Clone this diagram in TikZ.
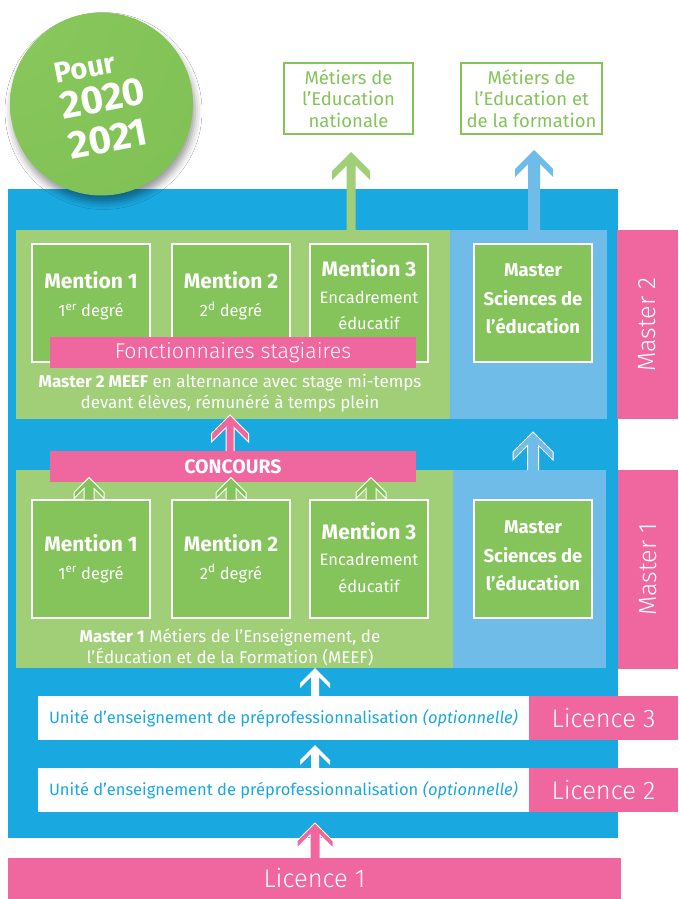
\documentclass[tikz,border=0pt]{standalone}
\usepackage{fontspec}
\setmainfont{Fira Sans}
\newfontfamily\lightfont{Fira Sans Light}
\usetikzlibrary{calc,shadows.blur}
\definecolor{bluebg}{HTML}{19A8E0}
\definecolor{lblue}{HTML}{6FBCE8}
\definecolor{lgreen}{HTML}{A0CF78}
\definecolor{mgreen}{HTML}{84C45A}
\definecolor{pinkc}{HTML}{F067A0}
\definecolor{btnA}{HTML}{A6D882}
\definecolor{btnB}{HTML}{86C65B}
\definecolor{btnC}{HTML}{7EBF54}
\definecolor{btnD}{HTML}{5F9E42}
\definecolor{btnE}{HTML}{4A8332}
\pgfdeclareradialshading{btnshade}{\pgfpoint{-35bp}{35bp}}{color(0bp)=(btnA); color(20bp)=(btnB); color(74bp)=(btnC); color(91bp)=(btnD); color(102bp)=(btnE); color(130bp)=(btnE)}
% block arrow pointing up: #1 fill style, #2 start (bottom), #3 tip, #4 head half width, #5 shaft half width, #6 wing thickness, #7 outline style
\newcommand\blockup[7]{%
  \path[#1] let \p1=(#2), \p2=(#3) in
    (\x2-#5pt,\y1) -- (\x2-#5pt,\y2-#5pt-#6pt) -- (\x2-#4pt,\y2-#4pt-#6pt) -- (\x2-#4pt,\y2-#4pt)
    -- (\x2,\y2) -- (\x2+#4pt,\y2-#4pt) -- (\x2+#4pt,\y2-#4pt-#6pt) -- (\x2+#5pt,\y2-#5pt-#6pt)
    -- (\x2+#5pt,\y1) -- cycle;
  \path[#7] let \p1=(#2), \p2=(#3) in
    (\x2-#5pt,\y1) -- (\x2-#5pt,\y2-#5pt-#6pt) -- (\x2-#4pt,\y2-#4pt-#6pt) -- (\x2-#4pt,\y2-#4pt)
    -- (\x2,\y2) -- (\x2+#4pt,\y2-#4pt) -- (\x2+#4pt,\y2-#4pt-#6pt) -- (\x2+#5pt,\y2-#5pt-#6pt)
    -- (\x2+#5pt,\y1);
}
\begin{document}
\begin{tikzpicture}[x=1pt,y=-1pt,
  panel/.style={inner sep=0pt, outer sep=0pt, anchor=north west},
  mbox/.style={inner sep=0pt, outer sep=0pt, fill=mgreen, draw=white, line width=2pt, minimum width=118pt, minimum height=118pt},
  mtext/.style={align=center, text=white, inner sep=0pt, font=\fontsize{16.5}{28}\selectfont},
  ptext/.style={align=center, text=white, inner sep=0pt, font=\fontsize{17}{21}\selectfont},
  metbox/.style={inner sep=0pt, outer sep=0pt, fill=white, draw=mgreen, line width=2pt, minimum height=71pt, align=center, text=mgreen, font=\fontsize{18.5}{21.5}\selectfont},
  vlab/.style={rotate=90, text=white, inner sep=0pt, font=\lightfont\fontsize{25}{28}\selectfont},
  lictext/.style={text=white, font=\lightfont\fontsize{25.5}{28}\selectfont},
  uetext/.style={text=bluebg, font=\fontsize{16.5}{18}\selectfont},
  outl/.style={draw=white, line width=1pt, line join=miter}
]
\useasboundingbox (0,0) rectangle (678,899);
\fill[white] (0,0) rectangle (678,899);

% main panels
\node[panel, fill=bluebg, minimum width=610pt, minimum height=649pt] (bg) at (8,189) {};
\node[panel, fill=lgreen, minimum width=434pt, minimum height=189pt] (m2g) at (16,230) {};
\node[panel, fill=lblue, minimum width=157pt, minimum height=189pt] (m2b) at (450,230) {};
\node[panel, fill=pinkc, minimum width=61pt, minimum height=189pt] (m2l) at (617,230) {};
\node[vlab] (m2ltxt) at (m2l.center) {Master 2};
\node[panel, fill=lgreen, minimum width=437pt, minimum height=198pt] (m1g) at (16,470) {};
\node[panel, fill=lblue, minimum width=153pt, minimum height=198pt] (m1b) at (453,470) {};
\node[panel, fill=pinkc, minimum width=60pt, minimum height=199pt] (m1l) at (618,470) {};
\node[vlab] (m1ltxt) at (m1l.center) {Master 1};

% top destination boxes
\node[metbox, minimum width=129pt] (met1) at (348.5,98.5) {Métiers de\\l’Education\\nationale};
\node[metbox, minimum width=141pt] (met2) at (531.5,98.5) {Métiers de\\l’Education et\\de la formation};
\coordinate (gtip) at (351,152);
\coordinate (btip) at (534,150);
\blockup{fill=lgreen}{m2g.north}{gtip}{19}{4.5}{9}{draw=none}
\blockup{fill=lblue}{m2b.north}{btip}{19}{6}{8}{draw=none}

% Master 2 boxes
\node[mbox] (m2a) at (91,303) {};
\node[mbox] (m2bb) at (231,303) {};
\node[mbox] (m2c) at (369,303) {};
\node[mbox] (m2s) at (533,303) {};
\node[mtext] (m2at) at ($(m2a.center)+(0,-7)$) {{\bfseries\fontsize{21}{28}\selectfont Mention 1}\\1\textsuperscript{er} degré};
\node[mtext] (m2bt) at ($(m2bb.center)+(0,-7)$) {{\bfseries\fontsize{21}{28}\selectfont Mention 2}\\2\textsuperscript{d} degré};
\node[mtext, font=\fontsize{16.5}{26.5}\selectfont] (m2ct) at ($(m2c.center)+(0,-8)$) {{\bfseries\fontsize{21}{26.5}\selectfont Mention 3}\\Encadrement\\éducatif};
\node[mtext, font=\bfseries\fontsize{18.5}{28.5}\selectfont] (m2st) at ($(m2s.center)+(0,-4)$) {Master\\Sciences de\\l’éducation};
\node[panel, fill=pinkc, minimum width=366pt, minimum height=31pt, text=white, font=\lightfont\fontsize{21.3}{24}\selectfont] (fonc) at (50,337) {Fonctionnaires stagiaires};
\node[ptext] (m2txt) at (230,393) {\textbf{Master 2 MEEF} en alternance avec stage mi-temps\\devant élèves, rémunéré à temps plein};

% Master 1 boxes
\node[mbox] (m1a) at (91,558.5) {};
\node[mbox] (m1bb) at (231,558.5) {};
\node[mbox] (m1c) at (369,558.5) {};
\node[mbox] (m1s) at (533,559) {};
\node[mtext] (m1at) at (m1a.center) {{\bfseries\fontsize{21}{28}\selectfont Mention 1}\\1\textsuperscript{er} degré};
\node[mtext] (m1bt) at (m1bb.center) {{\bfseries\fontsize{21}{28}\selectfont Mention 2}\\2\textsuperscript{d} degré};
\node[mtext, font=\fontsize{16.5}{26.5}\selectfont] (m1ct) at ($(m1c.center)+(0,-1)$) {{\bfseries\fontsize{21}{26.5}\selectfont Mention 3}\\Encadrement\\éducatif};
\node[mtext, font=\bfseries\fontsize{18.5}{28.5}\selectfont] (m1st) at ($(m1s.center)+(0,-3)$) {Master\\Sciences de\\l’éducation};
\node[ptext] (m1txt) at (230,647) {\textbf{Master 1} Métiers de l’Enseignement, de\\l’Éducation et de la Formation (MEEF)};
\node[panel, fill=pinkc, minimum width=366pt, minimum height=31pt, text=white, font=\bfseries\fontsize{19.5}{22}\selectfont] (conc) at (50,451) {CONCOURS};

% arrows in the master area
\coordinate (ptip) at (230,415);
\blockup{fill=pinkc}{conc.north}{ptip}{18.5}{4}{8.5}{outl}
\coordinate (stip) at (533,432);
\blockup{fill=lblue}{m1b.north}{stip}{20}{5.5}{8}{outl}
\coordinate (a1t) at ($(m1a.north)+(-2,-22)$);
\coordinate (a2t) at ($(m1bb.north)+(0,-22)$);
\coordinate (a3t) at ($(m1c.north)+(2,-22)$);
\blockup{fill=mgreen}{m1a.north}{a1t}{15}{5}{6}{outl}
\blockup{fill=mgreen}{m1bb.north}{a2t}{15}{5}{6}{outl}
\blockup{fill=mgreen}{m1c.north}{a3t}{15}{5}{6}{outl}

% licence rows
\node[panel, fill=white, minimum width=491pt, minimum height=44pt, uetext] (l3w) at (38,696) {Unité d’enseignement de préprofessionnalisation \textit{(optionnelle)}};
\node[panel, fill=pinkc, minimum width=149pt, minimum height=44pt, lictext] (l3p) at (529,696) {Licence 3};
\node[panel, fill=white, minimum width=491pt, minimum height=44pt, uetext] (l2w) at (38,768) {Unité d’enseignement de préprofessionnalisation \textit{(optionnelle)}};
\node[panel, fill=pinkc, minimum width=149pt, minimum height=44pt, lictext] (l2p) at (529,768) {Licence 2};
\node[panel, fill=pinkc, minimum width=613pt, minimum height=41pt, lictext] (l1) at (8,858) {Licence 1};
\coordinate (w3t) at (315,668);
\coordinate (w2t) at (315,745);
\coordinate (p1t) at (315,823);
\blockup{fill=white}{l3w.north}{w3t}{15}{4}{5}{draw=none}
\blockup{fill=white}{l2w.north}{w2t}{15}{4}{5}{draw=none}
\blockup{fill=pinkc}{l1.north}{p1t}{18}{5}{7}{outl}

% badge
\node[circle, inner sep=0pt, minimum size=183pt, shade, shading=btnshade,
  blur shadow={shadow xshift=2pt, shadow yshift=-7pt, shadow blur radius=7pt, shadow opacity=40}] (badge) at (101.5,104) {};
\node[text=white, inner sep=0pt, rotate=11, align=left, font=\bfseries\fontsize{39}{38}\selectfont] (btxt) at (104,104) {{\fontsize{29}{38}\selectfont Pour}\\[-2pt]2020\\[3pt]2021};
\end{tikzpicture}
\end{document}
